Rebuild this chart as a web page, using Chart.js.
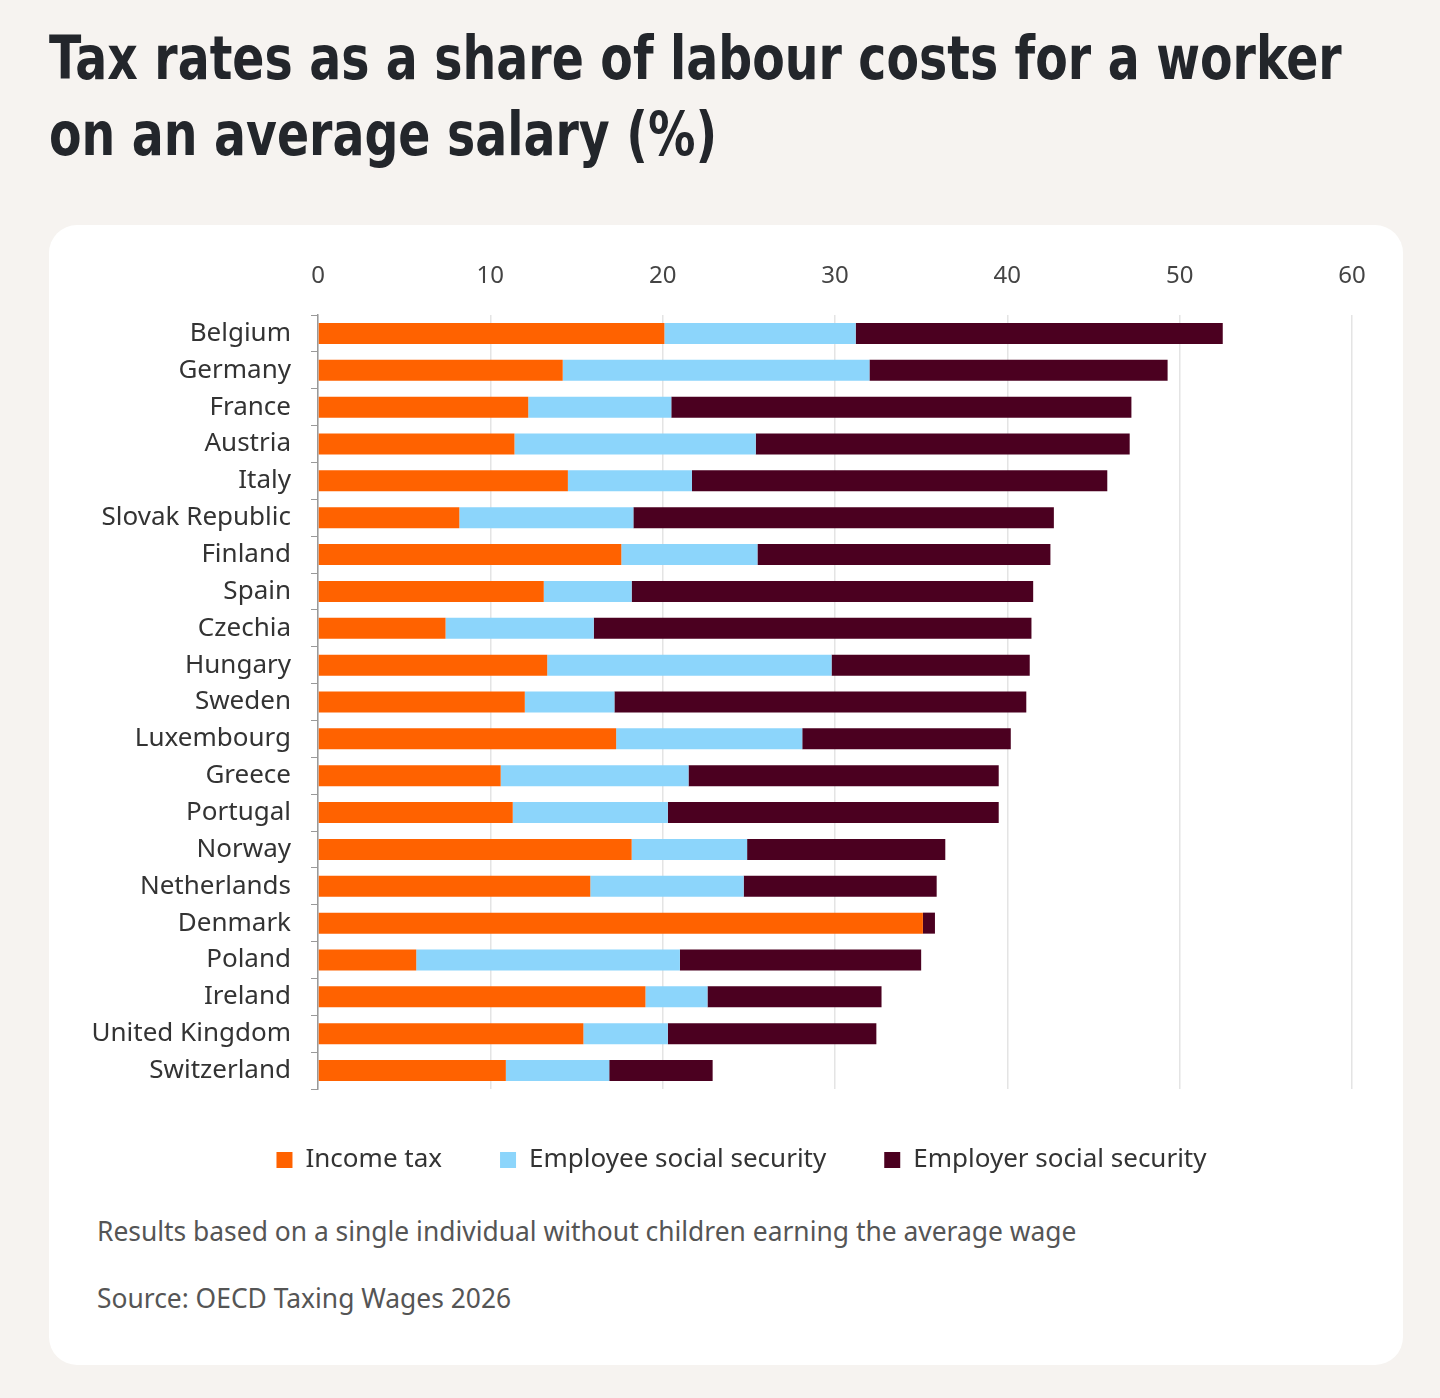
<!DOCTYPE html>
<html>
<head>
<meta charset="utf-8">
<script src="https://cdn.jsdelivr.net/npm/chart.js@4.4.1/dist/chart.umd.min.js"></script>
<style>
  html, body { margin: 0; padding: 0; }
  body { width: 1440px; height: 1398px; background: #f6f3f0; position: relative; overflow: hidden; font-family: "Noto Sans", sans-serif; }
  h1 { position: absolute; left: 49px; top: 20px; margin: 0; font-family: "DejaVu Sans", sans-serif; font-weight: bold; font-size: 60px; line-height: 76px; color: #23262b; white-space: nowrap; transform: scaleX(0.79); transform-origin: left top; }
  .card { position: absolute; left: 49px; top: 225px; width: 1354px; height: 1140px; background: #fff; border-radius: 28px; }
  .chartBox { position: absolute; left: 0; top: 25px; width: 1354px; height: 953px; }
  .note { position: absolute; left: 48px; font-size: 26.4px; color: #555; }
</style>
</head>
<body>
<h1>Tax rates as a share of labour costs for a worker<br>on an average salary (%)</h1>
<div class="card">
  <div class="chartBox"><canvas id="taxChart"></canvas></div>
  <div class="note" style="top: 988px;">Results based on a single individual without children earning the average wage</div>
  <div class="note" style="top: 1055px;">Source: OECD Taxing Wages 2026</div>
</div>
<script>
const countries = ['Belgium', 'Germany', 'France', 'Austria', 'Italy', 'Slovak Republic', 'Finland', 'Spain', 'Czechia', 'Hungary', 'Sweden', 'Luxembourg', 'Greece', 'Portugal', 'Norway', 'Netherlands', 'Denmark', 'Poland', 'Ireland', 'United Kingdom', 'Switzerland'];
const incomeTax = [20.1, 14.2, 12.2, 11.4, 14.5, 8.2, 17.6, 13.1, 7.4, 13.3, 12.0, 17.3, 10.6, 11.3, 18.2, 15.8, 35.1, 5.7, 19.0, 15.4, 10.9];
const employeeSS = [11.1, 17.8, 8.3, 14.0, 7.2, 10.1, 7.9, 5.1, 8.6, 16.5, 5.2, 10.8, 10.9, 9.0, 6.7, 8.9, 0, 15.3, 3.6, 4.9, 6.0];
const employerSS = [21.3, 17.3, 26.7, 21.7, 24.1, 24.4, 17.0, 23.3, 25.4, 11.5, 23.9, 12.1, 18.0, 19.2, 11.5, 11.2, 0.7, 14.0, 10.1, 12.1, 6.0];
const xTicks = [0, 10, 20, 30, 40, 50, 60];

// nudge the legend a bit to the right, the reference centres it under the bars
const legendShift = {
    id: 'legendShift',
    afterLayout(chart) {
        if (chart.legend) chart.legend.left += 82;
    }
};

const ctx = document.getElementById('taxChart').getContext('2d');

new Chart(ctx, {
    type: 'bar',
    data: {
        labels: countries,
        datasets: [
            { label: 'Income tax', data: incomeTax, backgroundColor: '#ff6200' },
            { label: 'Employee social security', data: employeeSS, backgroundColor: '#8cd5fb' },
            { label: 'Employer social security', data: employerSS, backgroundColor: '#4b0020' }
        ]
    },
    options: {
        indexAxis: 'y',
        responsive: true,
        maintainAspectRatio: false,
        animation: false,
        barPercentage: 0.57,
        categoryPercentage: 1,
        layout: { padding: { left: 0, right: 51, top: 0, bottom: 20 } },
        scales: {
            x: {
                position: 'top',
                stacked: true,
                min: 0,
                max: 60,
                afterBuildTicks: scale => { scale.ticks = xTicks.map(v => ({ value: v })); },
                afterFit: scale => { scale.height = 65; },
                grid: { color: '#e4e4e4', drawTicks: false, lineWidth: 1.5 },
                border: { display: false },
                ticks: { padding: 24, color: '#444', font: { family: 'Noto Sans', size: 24 } }
            },
            y: {
                stacked: true,
                afterFit: scale => { scale.width = 269; },
                grid: { drawOnChartArea: false, color: '#999', tickLength: 7, offset: true },
                border: { color: '#999', width: 1.5 },
                ticks: { padding: 20, color: '#333', font: { family: 'Noto Sans', size: 26 } }
            }
        },
        plugins: {
            legend: {
                position: 'bottom',
                labels: {
                    boxWidth: 16,
                    boxHeight: 16,
                    padding: 58,
                    color: '#333',
                    font: { family: 'Noto Sans', size: 26 }
                }
            },
            tooltip: { enabled: false }
        }
    },
    plugins: [legendShift]
});
</script>
</body>
</html>
